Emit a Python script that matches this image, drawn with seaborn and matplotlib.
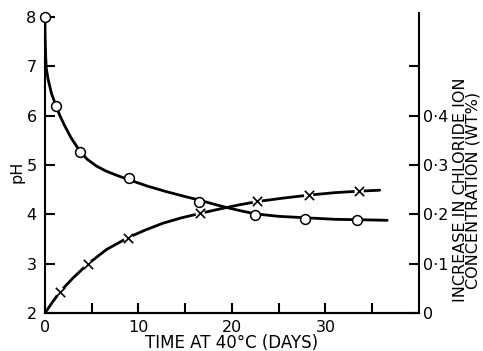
import numpy as np
import pandas as pd
import matplotlib
matplotlib.use("Agg")
import matplotlib.pyplot as plt
import seaborn as sns

# ── data ────────────────────────────────────────────────────────
ph_days = [0, 1.2, 3.7, 9.0, 16.5, 22.5, 27.8, 33.4]
ph_vals = [8.0, 6.2, 5.27, 4.73, 4.26, 3.99, 3.91, 3.89]

cl_days = [1.6, 4.56, 8.9, 16.6, 22.7, 28.2, 33.6]
cl_vals = [0.043, 0.099, 0.153, 0.202, 0.227, 0.239, 0.247]

# hand-drawn fitted curves
ph_curve_x = [0, 0.02, 0.08, 0.15, 0.35, 0.7, 1.18, 1.6, 2.1, 2.8, 3.74, 4.5,
              5.5, 6.5, 7.7, 9, 11, 13, 15, 16.5, 18, 19.4, 21, 22.5, 25, 28,
              31, 34, 36.6]
ph_curve_y = [8.0, 7.6, 7.2, 6.95, 6.73, 6.45, 6.2, 6.0, 5.8, 5.55, 5.28, 5.12,
              4.98, 4.88, 4.79, 4.7, 4.57, 4.46, 4.36, 4.29, 4.21, 4.14, 4.07,
              4.01, 3.96, 3.93, 3.9, 3.89, 3.88]

cl_curve_x = [0, 0.8, 1.6, 3.0, 4.56, 6.6, 8.9, 10.7, 12.6, 14.6, 16.6, 18.7,
              20.7, 22.7, 25.5, 28.2, 31, 33.6, 35.8]
cl_curve_y = [0, 0.022, 0.043, 0.071, 0.099, 0.129, 0.153, 0.168, 0.182, 0.193,
              0.202, 0.211, 0.219, 0.226, 0.233, 0.239, 0.244, 0.247, 0.249]

sns.set_style("ticks")
plt.rcParams["font.family"] = ["DejaVu Sans"]
plt.rcParams["axes.linewidth"] = 1.5
for key in ("text.color", "axes.labelcolor", "axes.edgecolor",
            "xtick.color", "ytick.color"):
    plt.rcParams[key] = "black"

fig = plt.figure(figsize=(4.83, 3.51), dpi=100)
ax = fig.add_axes([0.093, 0.108, 0.7745, 0.855])
ax2 = ax.twinx()

ph_curve = pd.DataFrame({"x": ph_curve_x, "y": ph_curve_y})
cl_curve = pd.DataFrame({"x": cl_curve_x, "y": cl_curve_y})

sns.lineplot(data=ph_curve, x="x", y="y", ax=ax, color="black", lw=2,
             sort=False, solid_joinstyle="round")
sns.scatterplot(x=ph_days, y=ph_vals, ax=ax, marker="o", s=50,
                facecolor="white", edgecolor="black", linewidth=1.1,
                zorder=5, clip_on=False)

sns.lineplot(data=cl_curve, x="x", y="y", ax=ax2, color="black", lw=2,
             sort=False, solid_joinstyle="round")
# white patch behind each cross, as the pen line is broken there
sns.scatterplot(x=cl_days, y=cl_vals, ax=ax2, marker="o", s=45,
                color="white", edgecolor="none", zorder=4)
sns.scatterplot(x=cl_days, y=cl_vals, ax=ax2, marker="x", s=45,
                color="black", linewidth=1.2, zorder=5)

ax.set_xlim(0, 40)
ax.set_ylim(2, 8.08)
ax2.set_ylim(0, 0.608)

ax.set_xticks([0, 5, 10, 15, 20, 25, 30, 35])
ax.set_xticklabels(["0", "", "10", "", "20", "", "30", ""])
ax.set_yticks([2, 3, 4, 5, 6, 7, 8])
ax2.set_yticks([0, 0.1, 0.2, 0.3, 0.4, 0.5])
ax2.set_yticklabels(["0", "0·1", "0·2", "0·3", "0·4", ""])

for a in (ax, ax2):
    a.tick_params(direction="in", length=7, width=1.5, labelsize=11.5, pad=3)
    a.spines["top"].set_visible(False)
ax.tick_params(axis="y", pad=6)
ax.tick_params(axis="x", pad=5)
ax.spines["right"].set_visible(False)
ax2.spines["left"].set_visible(False)
ax.spines["left"].set_bounds(2, 8)

ax.set_xlabel("TIME AT 40°C (DAYS)", fontsize=12, labelpad=-1)
ax.set_ylabel("pH", fontsize=11.5)
ax.yaxis.set_label_coords(-0.075, 0.47)
ax.yaxis.label.set(ha="center", va="center")

ax2.set_ylabel("INCREASE IN CHLORIDE ION\nCONCENTRATION (WT%)",
               fontsize=11.5, linespacing=0.85, rotation=90)
ax2.yaxis.set_label_coords(1.128, 0.41)
ax2.yaxis.label.set(ha="center", va="center")

fig.savefig("out.png", dpi=100)
